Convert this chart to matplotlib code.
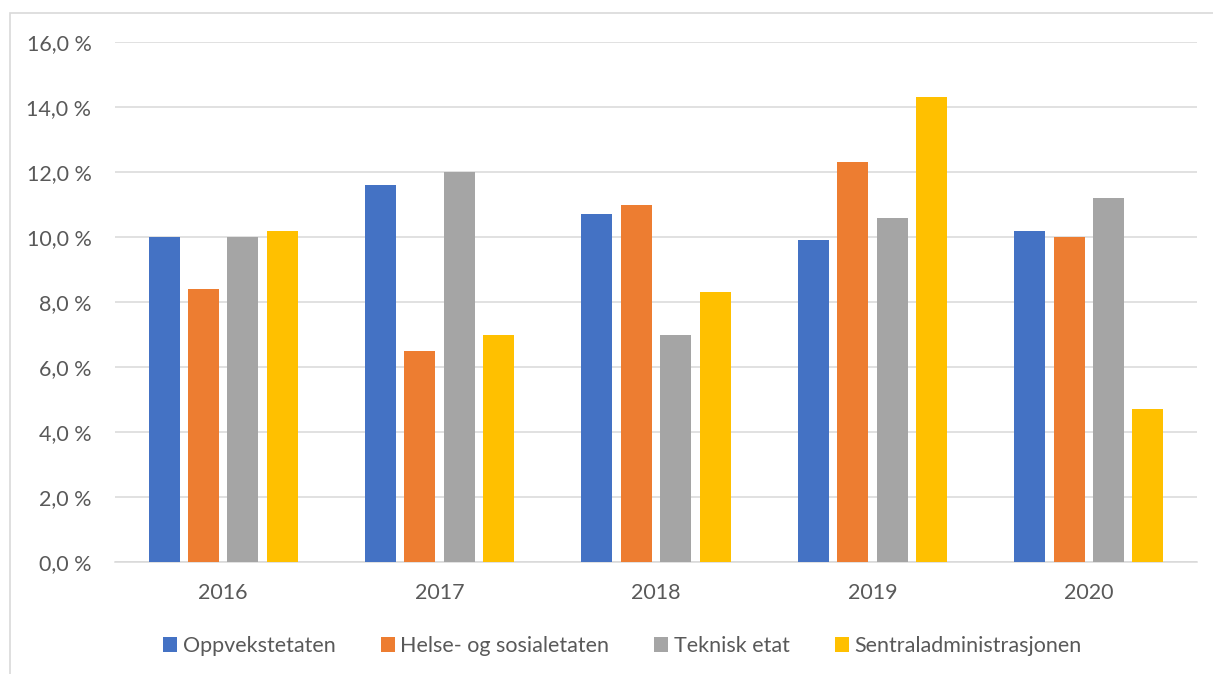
import numpy as np
import matplotlib
matplotlib.use("Agg")
import matplotlib.pyplot as plt
from matplotlib.patches import Rectangle
from matplotlib.ticker import FuncFormatter

plt.rcParams['font.family'] = ['Lato', 'DejaVu Sans']

years = ['2016', '2017', '2018', '2019', '2020']
oppvekst = [10.0, 11.6, 10.7, 9.9, 10.2]
helse = [8.4, 6.5, 11.0, 12.3, 10.0]
teknisk = [10.0, 12.0, 7.0, 10.6, 11.2]
sentral = [10.2, 7.0, 8.3, 14.3, 4.7]

series_names = ['Oppvekstetaten', 'Helse- og sosialetaten', 'Teknisk etat', 'Sentraladministrasjonen']
colors = ['#4472C4', '#ED7D31', '#A5A5A5', '#FFC000']

fig = plt.figure(figsize=(12.13, 6.74), dpi=100)
ax = fig.add_axes([115 / 1213, 1 - 562 / 674, (1197 - 115) / 1213, (562 - 42) / 674])

# light frame around the chart (Excel style)
fig.patches.append(Rectangle((9.5 / 1213, -0.05), 1.1, 1 - 12.5 / 674 + 0.05,
                             transform=fig.transFigure, fill=False,
                             edgecolor='#d9d9d9', linewidth=1.2))

x = np.arange(len(years))
width = 0.143
step = 0.182
data = [oppvekst, helse, teknisk, sentral]
for i, (vals, name, c) in enumerate(zip(data, series_names, colors)):
    ax.bar(x + (i - 1.5) * step, vals, width, color=c, label=name, zorder=3)

ax.set_xlim(-0.5, len(years) - 0.5)
ax.set_ylim(0, 16)
ax.set_yticks(np.arange(0, 16.1, 2))
ax.yaxis.set_major_formatter(FuncFormatter(lambda v, p: f'{v:.1f} %'.replace('.', ',')))
ax.set_xticks(x)
ax.set_xticklabels(years)

ax.grid(axis='y', color='#d9d9d9', linewidth=1.1, zorder=0)
for s in ['top', 'right', 'left']:
    ax.spines[s].set_visible(False)
ax.spines['bottom'].set_color('#d9d9d9')
ax.spines['bottom'].set_linewidth(1.1)
ax.tick_params(axis='both', length=0, labelsize=15.5, colors='#595959')
ax.tick_params(axis='y', pad=17)
ax.tick_params(axis='x', pad=15)

fig.legend(loc='center', bbox_to_anchor=(0.513, 1 - 646 / 674), ncol=4, frameon=False,
           fontsize=15.5, labelcolor='#595959', handlelength=0.65, handleheight=0.65,
           handletextpad=0.25, columnspacing=2.1)

fig.savefig('out.png', dpi=100)
